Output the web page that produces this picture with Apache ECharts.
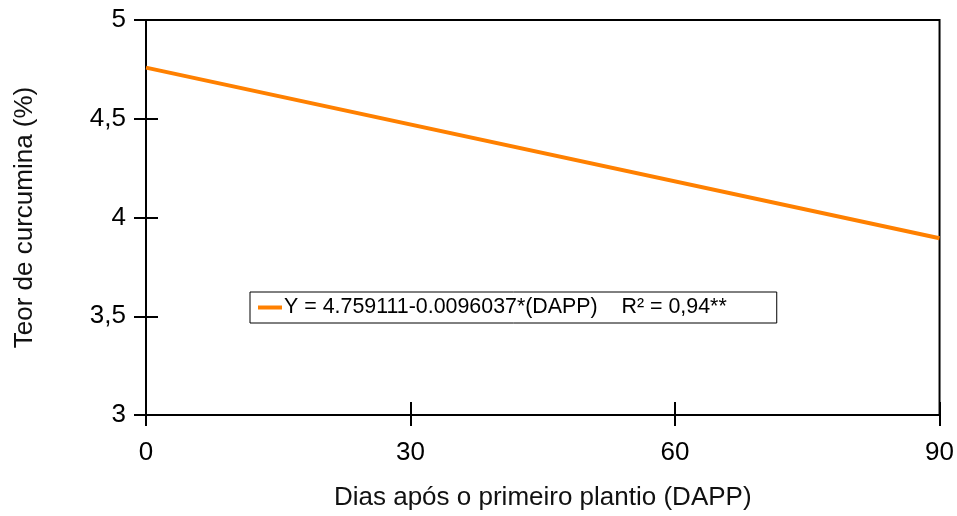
<!DOCTYPE html>
<html><head><meta charset="utf-8">
<script src="https://cdn.jsdelivr.net/npm/echarts@6/dist/echarts.min.js"></script>
<style>html,body{margin:0;padding:0;background:#fff}#c{width:957px;height:516px}</style>
</head><body><div id="c"></div>
<script>
const days = [0, 90];
const curcumina = [4.759, 3.895];
const seriesName = 'Y = 4.759111-0.0096037*(DAPP)    R² = 0,94**';
const xTicks = [0, 30, 60, 90];
const yMin = 3, yMax = 5, yStep = 0.5;
const xName = 'Dias após o primeiro plantio (DAPP)';
const yName = 'Teor de curcumina (%)';

const font = 'Liberation Sans, Arial, sans-serif';
const axLine = {show: true, lineStyle: {color: '#000', width: 2}};
const chart = echarts.init(document.getElementById('c'));
chart.setOption({
  animation: false,
  grid: {left: 146, right: 15, top: 20, bottom: 99, show: true, borderColor: '#000', borderWidth: 2, backgroundColor: 'transparent'},
  legend: {
    left: 250, top: 292, orient: 'horizontal',
    borderColor: '#000', borderWidth: 1, padding: [5, 50, 5, 8],
    icon: 'rect', itemWidth: 24, itemHeight: 4, itemGap: 0,
    textStyle: {fontFamily: font, fontSize: 21.4, color: '#000', padding: [0, 0, 0, -3]},
    data: [seriesName]
  },
  xAxis: [{
    type: 'value', min: xTicks[0], max: xTicks[xTicks.length-1], interval: 30,
    axisLine: axLine, splitLine: {show: false},
    axisTick: {show: true, length: 11, lineStyle: {color: '#000', width: 2}},
    axisLabel: {fontFamily: font, fontSize: 26, color: '#000', margin: 25},
    name: xName, nameLocation: 'middle', nameGap: 70,
    nameTextStyle: {fontFamily: font, fontSize: 26, color: '#111'}
  }, {
    type: 'value', min: xTicks[0], max: xTicks[xTicks.length-1], interval: 30, position: 'bottom',
    axisLine: {show: false}, splitLine: {show: false},
    axisTick: {show: true, inside: true, length: 13, lineStyle: {color: '#000', width: 2}},
    axisLabel: {show: false}
  }],
  yAxis: [{
    type: 'value', min: yMin, max: yMax, interval: yStep,
    axisLine: axLine, splitLine: {show: false},
    axisTick: {show: true, length: 12, lineStyle: {color: '#000', width: 2}},
    axisLabel: {fontFamily: font, fontSize: 26, color: '#000', margin: 20, padding: [10, 0, 0, 0],
      formatter: v => String(v).replace('.', ',')},
    name: yName, nameLocation: 'middle', nameGap: 108,
    nameTextStyle: {fontFamily: font, fontSize: 26, color: '#111'}
  }, {
    type: 'value', min: yMin, max: yMax, interval: yStep, position: 'left',
    axisLine: {show: false}, splitLine: {show: false},
    axisTick: {show: true, inside: true, length: 12, lineStyle: {color: '#000', width: 2}},
    axisLabel: {show: false}
  }],
  series: [{
    name: seriesName, type: 'line', showSymbol: false, symbol: 'none',
    data: days.map((d, i) => [d, curcumina[i]]),
    lineStyle: {color: '#ff8000', width: 4}, itemStyle: {color: '#ff8000'}
  }]
});
</script></body></html>
